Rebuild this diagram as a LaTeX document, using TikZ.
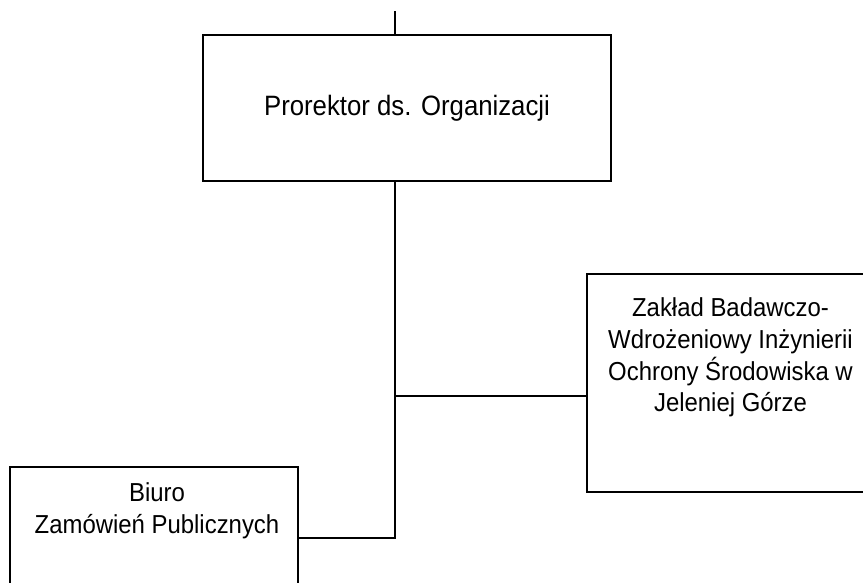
\documentclass[tikz,border=0pt]{standalone}
\usepackage{fontspec}
\setmainfont{Liberation Sans}[FakeStretch=0.92]
\usetikzlibrary{positioning}

\begin{document}
\begin{tikzpicture}[
		x=1pt, y=-1pt,
		box/.style={draw, line width=2.8pt, inner sep=0pt},
		caption/.style={inner sep=0pt, align=center, font=\fontsize{26}{31.7}\selectfont},
		link/.style={line width=2pt},
	]
		\useasboundingbox (0,0) rectangle (863,582);

		% units
		\node[box, minimum width=408pt, minimum height=146pt, font=\fontsize{28}{34}\selectfont] (prorektor) at (407,108) {Prorektor ds. Organizacji};
		\node[box, minimum width=287pt, minimum height=218pt] (zaklad) at (730.5,383) {};
		\node[box, minimum width=288pt, minimum height=150pt] (biuro) at (154,542) {};

		% texts
		\node[caption, below=25pt of zaklad.north] (zakladtext) {Zakład Badawczo-\\Wdrożeniowy Inżynierii\\Ochrony Środowiska w\\Jeleniej Górze};
		\node[caption, below=17pt of biuro.north, xshift=3pt] (biurotext) {Biuro\\Zamówień Publicznych};

		% connections
		\coordinate (up) at (395,11);
		\coordinate (joint) at (395,396);
		\coordinate (foot) at (395,538);
		\draw[link] (up) -- (up |- prorektor.north);
		\draw[link] (prorektor.south -| foot) -- (foot) -- (foot -| biuro.east);
		\draw[link] (joint) -- (joint -| zaklad.west);
	\end{tikzpicture}
\end{document}
